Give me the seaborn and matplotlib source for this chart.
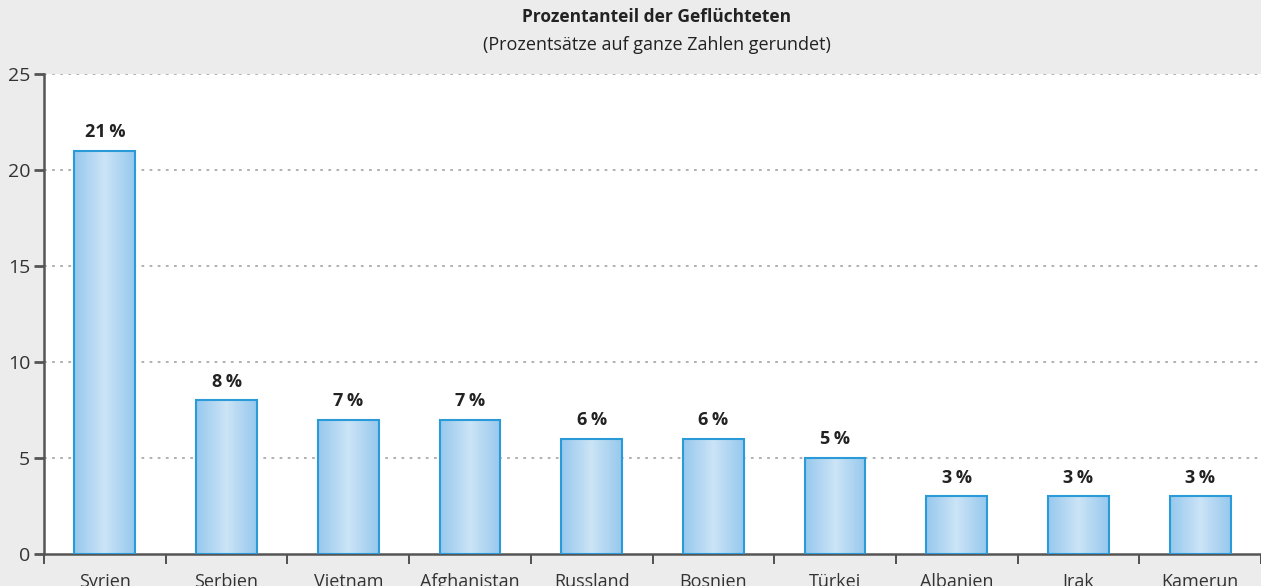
import numpy as np
import pandas as pd
import matplotlib.pyplot as plt
import seaborn as sns
from matplotlib.colors import LinearSegmentedColormap
from matplotlib.ticker import FixedLocator

# Daten
laender = ['Syrien', 'Serbien', 'Vietnam', 'Afghanistan', 'Russland',
           'Bosnien', 'Türkei', 'Albanien', 'Irak', 'Kamerun']
anteil = [21, 8, 7, 7, 6, 6, 5, 3, 3, 3]

df = pd.DataFrame({'land': laender, 'anteil': anteil})

sns.set_style('white')
plt.rcParams['font.family'] = ['Open Sans', 'DejaVu Sans']

bg = '#ebeceb'
fig = plt.figure(figsize=(12.61, 5.86), dpi=100, facecolor=bg)
ax = fig.add_axes([44 / 1261, 1 - 554 / 586, 1 - 44 / 1261, 480 / 586])
ax.set_facecolor('white')

sns.barplot(data=df, x='land', y='anteil', ax=ax, width=0.5,
            color='#a8d2f0', edgecolor='#2a9ad8', linewidth=1.5, zorder=3)

# horizontaler Farbverlauf in den Balken
cmap = LinearSegmentedColormap.from_list('blau', ['#96c8ee', '#cce4f6', '#96c8ee'])
grad = np.linspace(0, 1, 256).reshape(1, -1)
for p in ax.patches:
    x0, y0 = p.get_x(), p.get_y()
    w, h = p.get_width(), p.get_height()
    im = ax.imshow(grad, cmap=cmap, aspect='auto', extent=[x0, x0 + w, y0, y0 + h],
                   zorder=2.9, interpolation='bicubic')
    im.set_clip_path(p)
    p.set_facecolor('none')

ax.set_xlim(-0.5, len(laender) - 0.5)
ax.set_ylim(0, 25)
ax.set_yticks([0, 5, 10, 15, 20, 25])

# Beschriftung der Balken
for i, v in enumerate(anteil):
    ax.text(i, v + 0.5, f'{v}\u2009%', ha='center', va='bottom',
            fontsize=13, fontweight='bold', color='#222222')

# Gitterlinien
for y in [5, 10, 15, 20, 25]:
    ax.axhline(y, color='#aaaaaa', linestyle=(0, (1.5, 3)), linewidth=1.3, zorder=1)

for s in ['top', 'right']:
    ax.spines[s].set_visible(False)
for s in ['left', 'bottom']:
    ax.spines[s].set_color('#555555')
    ax.spines[s].set_linewidth(1.8)

ax.xaxis.set_minor_locator(FixedLocator(np.arange(-0.5, len(laender), 1.0)))
ax.tick_params(axis='x', which='major', length=0, pad=14, labelsize=13, colors='#333333')
ax.tick_params(axis='x', which='minor', length=7, width=1.3, color='#444444', direction='out', bottom=True)
ax.tick_params(axis='y', length=7, width=2, color='#555555', direction='out', left=True,
               labelsize=14, labelcolor='#333333', pad=3)
ax.set_xlabel('')
ax.set_ylabel('')

fig.text(657 / 1261, 1 - 17 / 586, 'Prozentanteil der Geflüchteten', ha='center', va='center',
         fontsize=12.5, fontweight='bold', color='#222222')
fig.text(657 / 1261, 1 - 45 / 586, '(Prozentsätze auf ganze Zahlen gerundet)', ha='center',
         va='center', fontsize=13, color='#222222')

fig.savefig('out.png', dpi=100, facecolor=bg)
